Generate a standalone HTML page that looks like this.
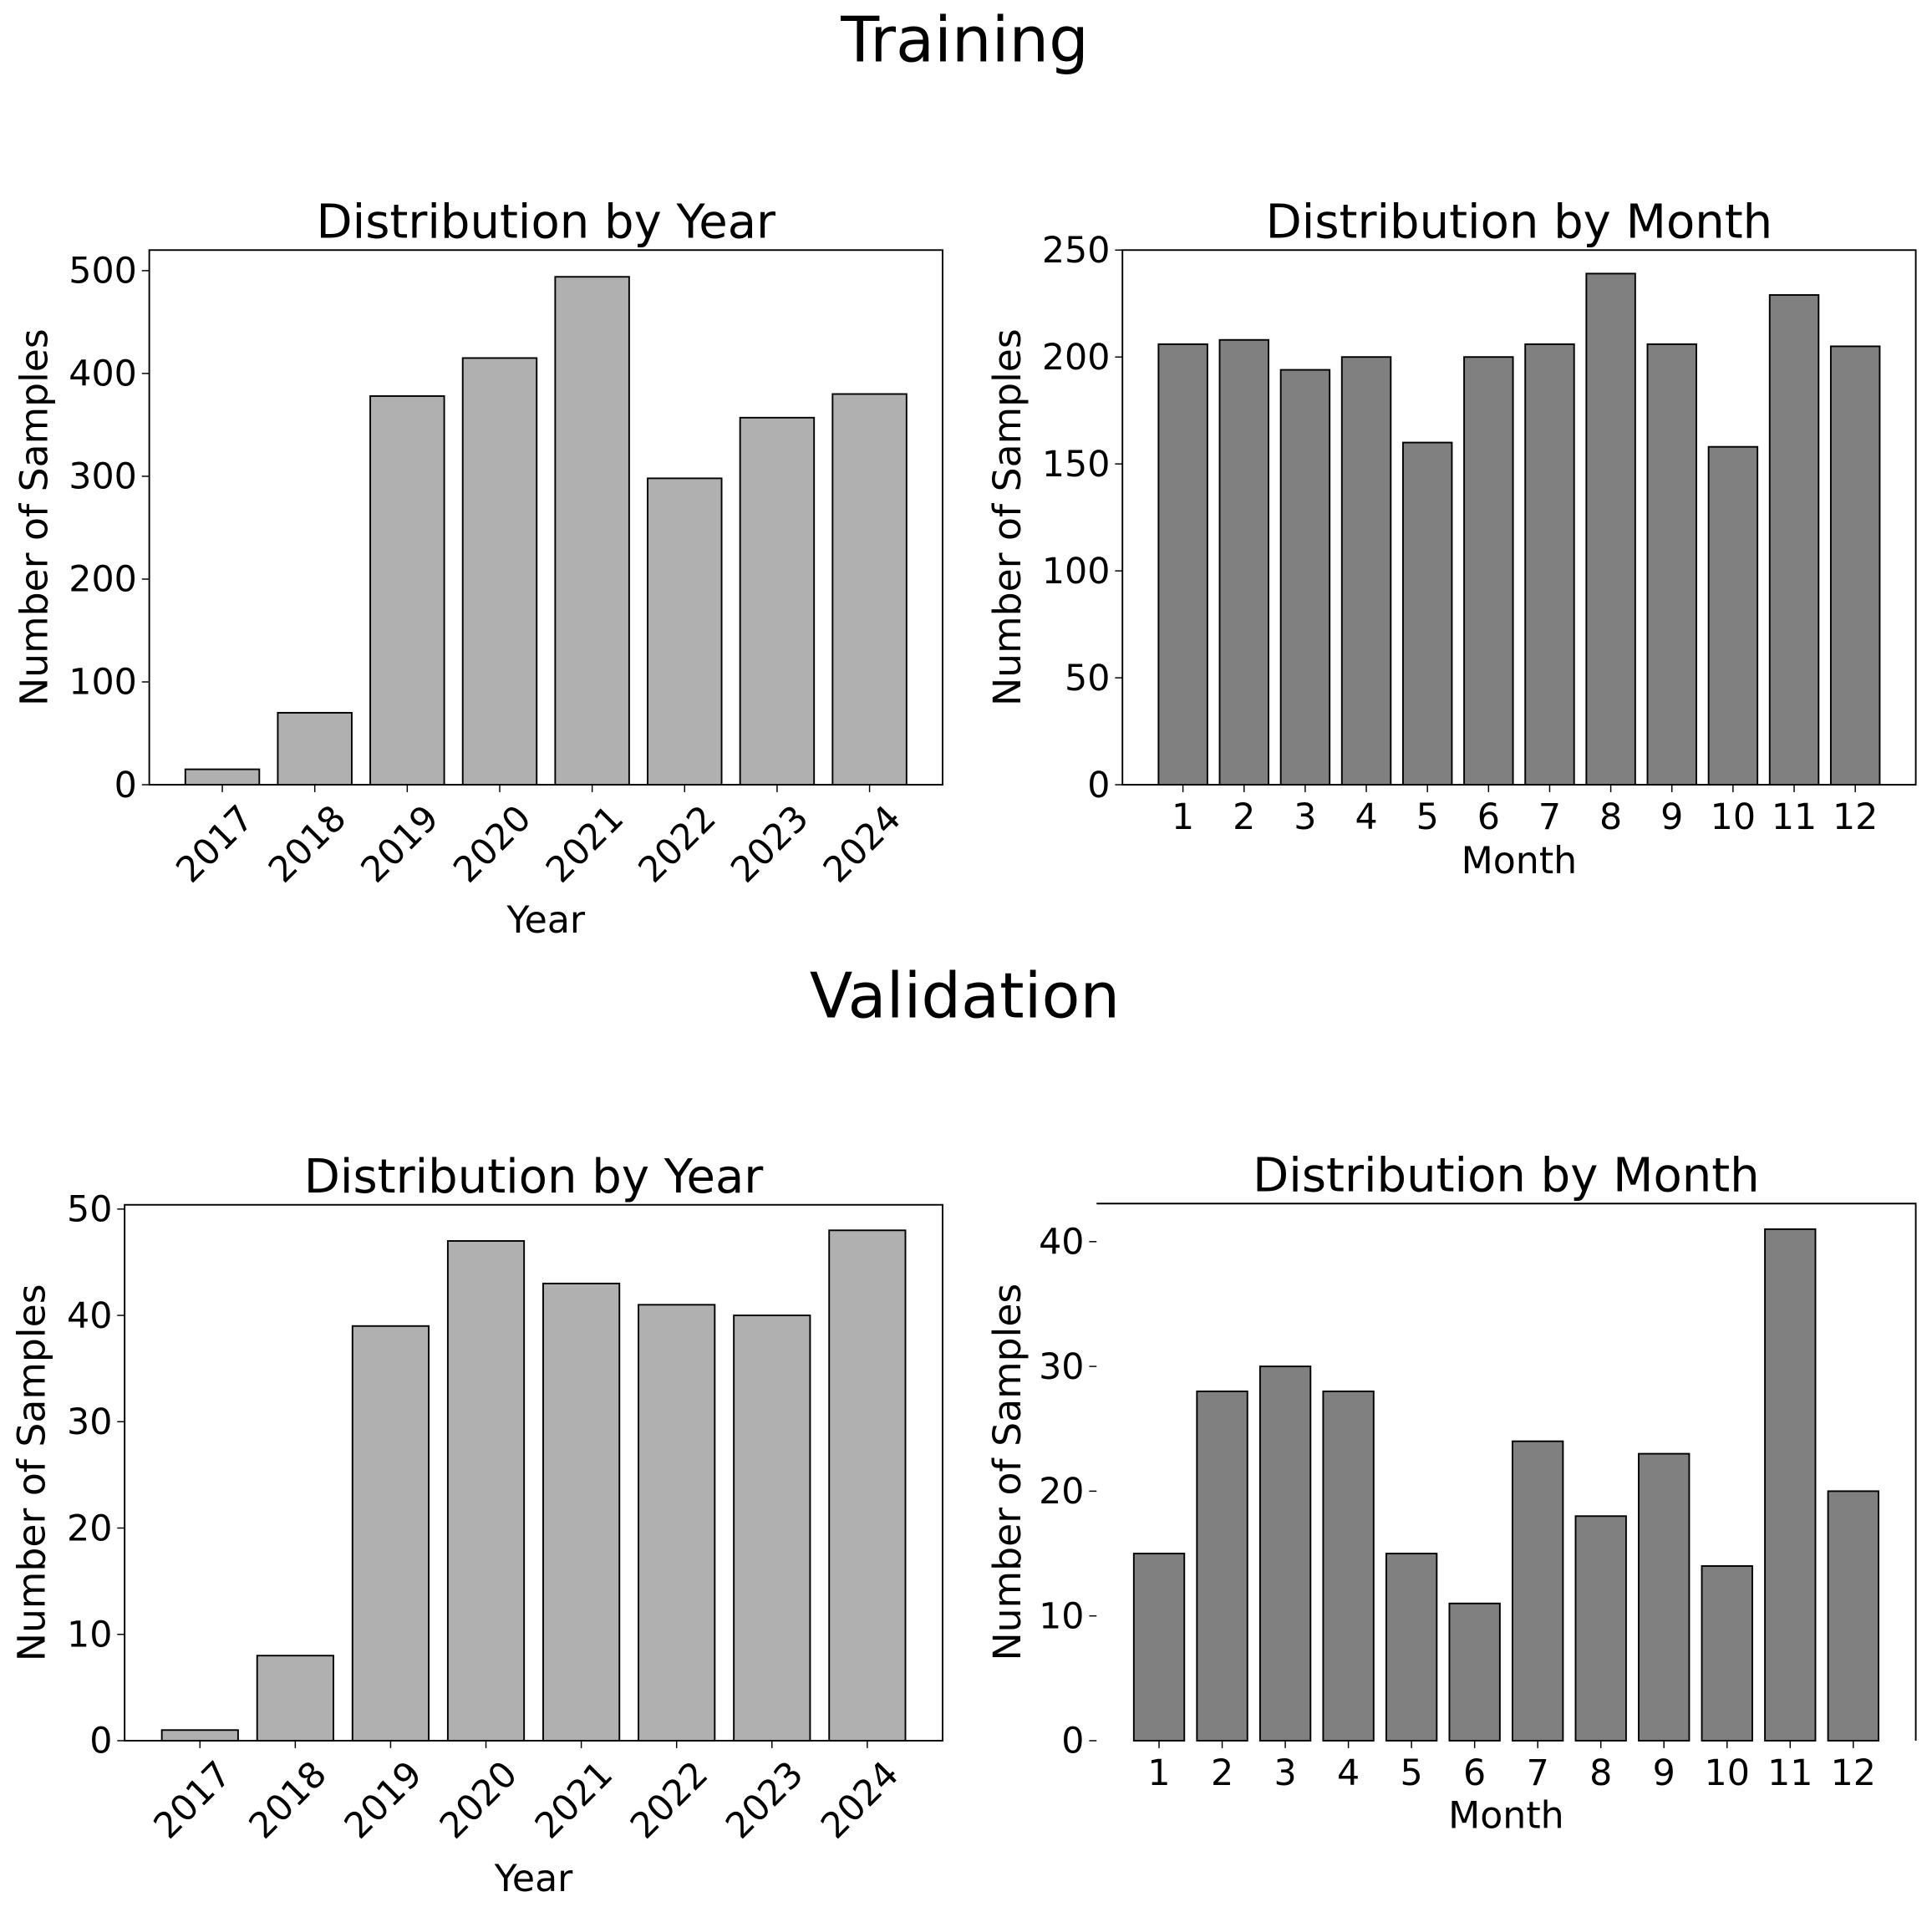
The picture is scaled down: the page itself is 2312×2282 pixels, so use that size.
<!DOCTYPE html>
<html><head><meta charset="utf-8"><style>
html,body{margin:0;padding:0;background:#fff}
svg{display:block}
text{font-family:"DejaVu Sans","Liberation Sans",sans-serif;fill:#000}
</style></head><body>
<svg id="fig" width="2312" height="2282" viewBox="0 0 1568 1548" xmlns="http://www.w3.org/2000/svg">
<text x="783" y="50" font-size="51" text-anchor="middle">Training</text>
<text x="783" y="826" font-size="51" text-anchor="middle">Validation</text>
</svg>
<script>
const yearCats = ["2017","2018","2019","2020","2021","2022","2023","2024"];
const monthCats = ["1","2","3","4","5","6","7","8","9","10","11","12"];
const trainYearVals = [15,70,378,415,494,298,357,380];
const trainMonthVals = [206,208,194,200,160,200,206,239,206,158,229,205];
const valYearVals = [1,8,39,47,43,41,40,48];
const valMonthVals = [15,28,30,28,15,11,24,18,23,14,41,20];
const trainYearTicks = [0,100,200,300,400,500];
const trainMonthTicks = [0,50,100,150,200,250];
const valYearTicks = [0,10,20,30,40,50];
const valMonthTicks = [0,10,20,30,40];

const NS = "http://www.w3.org/2000/svg";
const svg = document.getElementById('fig');
function mk(tag, attrs, parent){
  const e = document.createElementNS(NS, tag);
  for (const k in attrs) e.setAttribute(k, attrs[k]);
  (parent||svg).appendChild(e);
  return e;
}
function panel(opt){
  const g = mk('g', {});
  
  
  const n = opt.cats.length;
  const lo = -0.4 - 0.05*(n-1+0.8), hi = n-1+0.4 + 0.05*(n-1+0.8);
  const xs = v => opt.L + (v-lo)/(hi-lo)*(opt.R-opt.L);
  const ys = v => opt.B - v/opt.ymax*(opt.B-opt.T);
  const bw = 0.8*(opt.R-opt.L)/(hi-lo);
  opt.vals.forEach((v,i)=>{
    const r = mk('rect', {x:xs(i)-bw/2, y:ys(v), width:bw, height:opt.B-ys(v), fill:opt.color, stroke:'#000', 'stroke-width':1.3}, g);
    
    
  });
  if (opt.noLeft){
    const f = mk('path', {d:`M${opt.L},${opt.T} H${opt.R} V${opt.B}`, fill:'none', stroke:'#000', 'stroke-width':1.3}, g);
    
    
  } else {
    const f = mk('rect', {x:opt.L, y:opt.T, width:opt.R-opt.L, height:opt.B-opt.T, fill:'none', stroke:'#000', 'stroke-width':1.3}, g);
    
    
  }
  opt.yticks.forEach(t=>{
    const y = ys(t);
    mk('line', {x1:opt.L-6, x2:opt.L, y1:y, y2:y, stroke:'#000', 'stroke-width':1}, g);
    const tx = mk('text', {x:opt.L-10, y:y+10, 'font-size':29, 'text-anchor':'end'}, g);
    tx.textContent = t;
    
    
  });
  opt.cats.forEach((c,i)=>{
    const x = xs(i);
    mk('line', {x1:x, x2:x, y1:opt.B, y2:opt.B+6, stroke:'#000', 'stroke-width':1}, g);
    let tx;
    if (opt.rot){
      tx = mk('text', {x:x+12, y:opt.B+14, 'font-size':29, 'text-anchor':'end', transform:`rotate(-45 ${x+12} ${opt.B+14})`, 'dominant-baseline':'hanging'}, g);
    } else {
      tx = mk('text', {x:x, y:opt.B+36, 'font-size':29, 'text-anchor':'middle'}, g);
    }
    tx.textContent = c;
    
    
  });
  const cx = (opt.L+opt.R)/2;
  const ti = mk('text', {x:cx, y:opt.T-10, 'font-size':38, 'text-anchor':'middle'}, g);
  ti.textContent = opt.title;
  
  
  const xl = mk('text', {x:cx, y:opt.xlabY, 'font-size':30, 'text-anchor':'middle'}, g);
  xl.textContent = opt.xlabel;
  
  
  const yc = (opt.T+opt.B)/2;
  const yl = mk('text', {x:opt.ylabX, y:yc, 'font-size':31, 'text-anchor':'middle', transform:`rotate(-90 ${opt.ylabX} ${yc})`}, g);
  yl.textContent = 'Number of Samples';
  
  
}
panel({name:'train-year-chart', cats:yearCats, vals:trainYearVals, yticks:trainYearTicks, ymax:520, L:121, R:765, T:203, B:637, color:'#b0b0b0', rot:true, title:'Distribution by Year', xlabel:'Year', xlabY:757, ylabX:38});
panel({name:'train-month-chart', cats:monthCats, vals:trainMonthVals, yticks:trainMonthTicks, ymax:250, L:911, R:1555, T:203, B:637, color:'#808080', rot:false, title:'Distribution by Month', xlabel:'Month', xlabY:709, ylabX:828});
panel({name:'val-year-chart', cats:yearCats, vals:valYearVals, yticks:valYearTicks, ymax:50.4, L:101, R:765, T:978, B:1413, color:'#b0b0b0', rot:true, title:'Distribution by Year', xlabel:'Year', xlabY:1535, ylabX:36});
panel({name:'val-month-chart', cats:monthCats, vals:valMonthVals, yticks:valMonthTicks, ymax:43.05, L:890, R:1555, T:977, B:1413, color:'#808080', rot:false, noLeft:true, title:'Distribution by Month', xlabel:'Month', xlabY:1484, ylabX:828});
</script>
</body></html>
